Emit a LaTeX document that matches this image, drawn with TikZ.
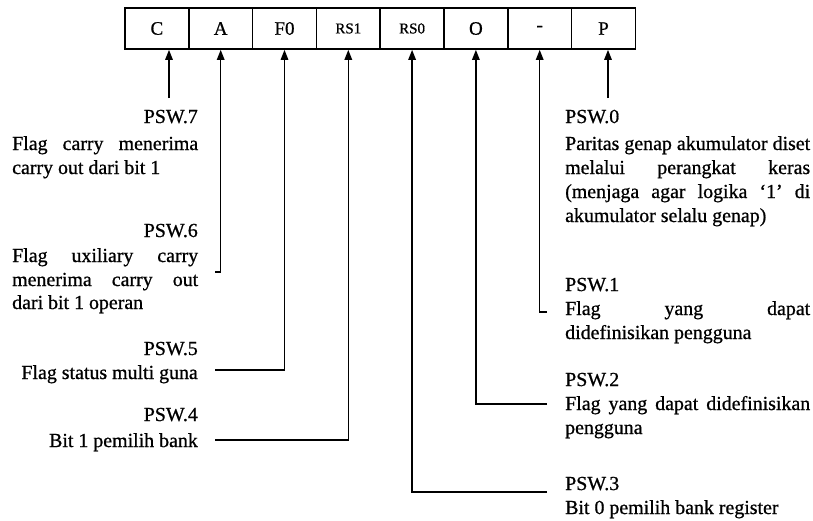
\documentclass[tikz,border=0pt]{standalone}
\usepackage{fontspec}
\setmainfont{Liberation Serif}[FakeBold=0.8]
\usetikzlibrary{arrows.meta}
\newlength\wL \setlength\wL{186pt}
\newlength\wR \setlength\wR{245pt}
\newcommand\LJ[1]{\makebox[\wL][s]{#1}}
\newcommand\RJ[1]{\makebox[\wR][s]{#1}}
\begin{document}
\begin{tikzpicture}[x=1pt,y=-1pt,
  regcell/.style={draw,line width=1.7pt,minimum width=63.8pt,minimum height=41pt,inner sep=0pt,font=\fontsize{19}{22}\selectfont},
  rscell/.style={regcell,font=\fontsize{15}{18}\selectfont},
  txtbase/.style={inner sep=0pt,font=\fontsize{19.9}{24}\selectfont},
  ltxt/.style={txtbase,anchor=base west},
  rtxt/.style={txtbase,anchor=base east},
  flagarrow/.style={line width=1.5pt,-{Triangle[width=7.5pt,length=10pt]}}]
\useasboundingbox (0,0) rectangle (813,520);
% register
\node[regcell] (c0) at (156.9,28.5) {C};
\node[regcell] (c1) at (220.7,28.5) {A};
\node[regcell] (c2) at (284.5,28.5) {F0};
\node[rscell]  (c3) at (348.3,28.5) {RS1};
\node[rscell]  (c4) at (412.1,28.5) {RS0};
\node[regcell] (c5) at (475.9,28.5) {O};
\node[regcell] (c6) at (539.7,28.5) {\raisebox{-2pt}{-}};
\node[regcell] (c7) at (603.5,28.5) {P};
% free ends
\coordinate (tC) at (169,98);
\coordinate (tP) at (608,98);
\coordinate (hA) at (215,272);
\coordinate (hF) at (215,370);
\coordinate (hR1) at (215,440);
\coordinate (hR0) at (547,492);
\coordinate (hO) at (547,404);
\coordinate (hD) at (547,312);
% connectors
\draw[flagarrow] (tC) -- (tC |- c0.south);
\draw[flagarrow] (tP) -- (tP |- c7.south);
\draw[flagarrow] (hA) -| (c1.south);
\draw[flagarrow] (hF) -| (c2.south);
\draw[flagarrow] (hR1) -| (c3.south);
\draw[flagarrow] (hR0) -| (c4.south);
\draw[flagarrow] (hO) -| (c5.south);
\draw[flagarrow] (hD) -| (c6.south);
% left texts
\node[rtxt] (p7)  at (198,123) {PSW.7};
\node[ltxt] (p7a) at (12,150) {\LJ{Flag carry menerima}};
\node[ltxt] (p7b) at (12,174) {carry out dari bit 1};
\node[rtxt] (p6)  at (198,237) {PSW.6};
\node[ltxt] (p6a) at (12,262) {\LJ{Flag uxiliary carry}};
\node[ltxt] (p6b) at (12,286) {\LJ{menerima carry out}};
\node[ltxt] (p6c) at (12,309) {dari bit 1 operan};
\node[rtxt] (p5)  at (198,355) {PSW.5};
\node[rtxt] (p5a) at (198,379) {Flag status multi guna};
\node[rtxt] (p4)  at (198,421) {PSW.4};
\node[rtxt] (p4a) at (198,447) {Bit 1 pemilih bank};
% right texts
\node[ltxt] (p0)  at (565,123) {PSW.0};
\node[ltxt] (p0a) at (565,150) {\RJ{Paritas genap akumulator diset}};
\node[ltxt] (p0b) at (565,174) {\RJ{melalui perangkat keras}};
\node[ltxt] (p0c) at (565,198) {\RJ{(menjaga agar logika ‘1’ di}};
\node[ltxt] (p0d) at (565,222) {akumulator selalu genap)};
\node[ltxt] (p1)  at (565,291) {PSW.1};
\node[ltxt] (p1a) at (565,315) {\RJ{Flag yang dapat}};
\node[ltxt] (p1b) at (565,339) {didefinisikan pengguna};
\node[ltxt] (p2)  at (565,386) {PSW.2};
\node[ltxt] (p2a) at (565,410) {\RJ{Flag yang dapat didefinisikan}};
\node[ltxt] (p2b) at (565,434) {pengguna};
\node[ltxt] (p3)  at (565,490) {PSW.3};
\node[ltxt] (p3a) at (565,514) {Bit 0 pemilih bank register};
\end{tikzpicture}
\end{document}
